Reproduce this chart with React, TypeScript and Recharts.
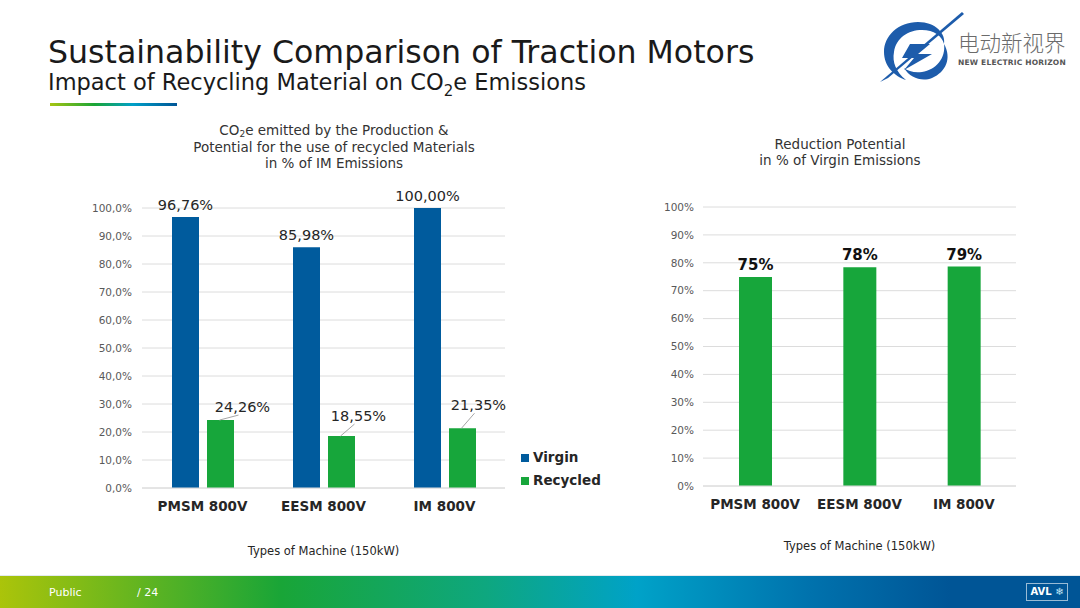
import React from 'react';
import { BarChart, Bar, XAxis, YAxis, CartesianGrid, LabelList, Legend, Label } from 'recharts';

const machines = ['PMSM 800V', 'EESM 800V', 'IM 800V'];
const virgin = [96.76, 85.98, 100.0];
const recycled = [24.26, 18.55, 21.35];
const reduction = [74.93, 78.43, 78.65];
const leftTicks = [0, 10, 20, 30, 40, 50, 60, 70, 80, 90, 100];
const rightTicks = [0, 10, 20, 30, 40, 50, 60, 70, 80, 90, 100];

const BLUE = '#005b9d';
const GREEN = '#17a63b';
const GRID = '#dcdcdc';
const FONT = "Verdana, 'DejaVu Sans', sans-serif";

const emissionRows = machines.map((name, i) => ({ name, virgin: virgin[i], recycled: recycled[i] }));
const reductionRows = machines.map((name, i) => ({ name, reduction: reduction[i] }));

const comma = (v: number, d: number) => v.toFixed(d).replace('.', ',');

// where the recycled labels sit relative to the bar top (they are pulled out with a leader line)
const recycledLabelShift = [
  { dx: 22, dy: -13 },
  { dx: 17, dy: -20 },
  { dx: 16, dy: -23 },
];

const RecycledLabel = (props: any) => {
  const { x, y, width, value, index } = props;
  const s = recycledLabelShift[index] || { dx: 0, dy: -10 };
  const bx = x + width / 2;
  const cx = bx + s.dx;
  const cy = y + s.dy;
  return (
    <g>
      <line x1={bx - 1} y1={y} x2={cx - 4} y2={cy + 8} stroke="#a6a6a6" strokeWidth={1} />
      <text x={cx} y={cy} dy="0.35em" textAnchor="middle" fontSize={14.5} fill="#262626" fontFamily={FONT}>
        {comma(value, 2)}%
      </text>
    </g>
  );
};

const LegendBox = () => (
  <div style={{ fontFamily: FONT, fontSize: 13.5, fontWeight: 700, color: '#262626', lineHeight: '23px' }}>
    {[
      { label: 'Virgin', color: BLUE },
      { label: 'Recycled', color: GREEN },
    ].map((it) => (
      <div key={it.label} style={{ display: 'flex', alignItems: 'center' }}>
        <span style={{ display: 'inline-block', width: 8, height: 8, background: it.color, marginRight: 4 }} />
        {it.label}
      </div>
    ))}
  </div>
);

const Logo = () => (
  <svg width={206} height={84} style={{ position: 'absolute', left: 874, top: 8 }}>
    <g fill="#1d5cab">
      <path d="M44 14 C24 14 10 28 10 44 C10 58 20 68 32 72 C22 64 18 54 20 44 C22 30 34 22 48 22 C60 22 68 28 70 36 C72 26 62 14 44 14 Z" />
      <path d="M70 36 C72 50 62 62 48 64 C40 65 34 63 30 60 C36 70 48 74 58 70 C72 64 78 50 70 36 Z" />
      <path d="M36 36 L56 36 L44 46 L58 46 L30 62 L40 50 L28 50 Z" />
      <path d="M6 74 L88 4 L90 6 L14 70 Z" />
    </g>
    <text x={84} y={43} fontSize={21.5} fill="#6b6b6b" fontFamily="'Noto Sans CJK SC', sans-serif" fontWeight={300}>
      电动新视界
    </text>
    <text x={84} y={57} fontSize={7.5} fill="#555" fontFamily="'DejaVu Sans', sans-serif" fontWeight={700} letterSpacing={0.2}>
      NEW ELECTRIC HORIZON
    </text>
  </svg>
);

const App: React.FC = () => {
  return (
    <div style={{ position: 'absolute', left: 0, top: 0, width: 1080, height: 608, background: '#fff', overflow: 'hidden' }}>
      <div style={{ position: 'absolute', left: 48, top: 33, fontFamily: FONT, color: '#1a1a1a', whiteSpace: 'nowrap' }}>
        <div style={{ fontSize: 31.6, lineHeight: '38px' }}>Sustainability Comparison of Traction Motors</div>
        <div style={{ fontSize: 22.5, lineHeight: '22px' }}>
          Impact of Recycling Material on CO<sub style={{ fontSize: 15, lineHeight: 0 }}>2</sub>e Emissions
        </div>
      </div>
      <div
        style={{
          position: 'absolute', left: 50, top: 103, width: 127, height: 3,
          background: 'linear-gradient(90deg, #a6c512 0%, #1aa535 35%, #00a0c8 65%, #005596 100%)',
        }}
      />
      <Logo />

      {/* left chart */}
      <div style={{ position: 'absolute', left: 134, top: 122, width: 400, textAlign: 'center', fontFamily: FONT, fontSize: 13.5, color: '#333', lineHeight: '16.5px', whiteSpace: 'nowrap' }}>
        CO<sub style={{ fontSize: 9, lineHeight: 0, verticalAlign: '-2px' }}>2</sub>e emitted by the Production &amp;<br />
        Potential for the use of recycled Materials<br />
        in % of IM Emissions
      </div>
      <div style={{ position: 'absolute', left: 40, top: 170 }}>
        <BarChart width={560} height={400} data={emissionRows} margin={{ top: 38, right: 95, bottom: 13, left: 42 }} barSize={27} barGap={8}>
          <CartesianGrid vertical={false} stroke={GRID} />
          <XAxis
            dataKey="name"
            axisLine={{ stroke: GRID }}
            tickLine={false}
            tickMargin={7}
            height={69}
            tick={{ fontFamily: FONT, fontSize: 13.5, fontWeight: 700, fill: '#262626' }}
          >
            <Label value="Types of Machine (150kW)" position="insideBottom" offset={2} style={{ fontFamily: FONT, fontSize: 11.5, fill: '#262626' }} />
          </XAxis>
          <YAxis
            domain={[0, 100]}
            ticks={leftTicks}
            width={60}
            axisLine={false}
            tickLine={false}
            tickMargin={4}
            tickFormatter={(v: number) => `${comma(v, 1)}%`}
            tick={{ fontFamily: FONT, fontSize: 10.5, fill: '#595959' }}
          />
          <Legend layout="vertical" align="center" verticalAlign="middle" wrapperStyle={{ left: 481, top: 276, width: 90 }} content={() => <LegendBox />} />
          <Bar dataKey="virgin" name="Virgin" fill={BLUE} isAnimationActive={false}>
            <LabelList
              dataKey="virgin"
              position="top"
              offset={7}
              formatter={(v: any) => `${comma(Number(v), 2)}%`}
              style={{ fontFamily: FONT, fontSize: 14.5, fill: '#262626' }}
            />
          </Bar>
          <Bar dataKey="recycled" name="Recycled" fill={GREEN} isAnimationActive={false}>
            <LabelList dataKey="recycled" content={RecycledLabel} />
          </Bar>
        </BarChart>
      </div>

      {/* right chart */}
      <div style={{ position: 'absolute', left: 690, top: 136, width: 300, textAlign: 'center', fontFamily: FONT, fontSize: 13.5, color: '#333', lineHeight: '16px', whiteSpace: 'nowrap' }}>
        Reduction Potential<br />
        in % of Virgin Emissions
      </div>
      <div style={{ position: 'absolute', left: 640, top: 170 }}>
        <BarChart width={420} height={400} data={reductionRows} margin={{ top: 37, right: 44, bottom: 15, left: 18 }} barSize={33}>
          <CartesianGrid vertical={false} stroke={GRID} />
          <XAxis
            dataKey="name"
            axisLine={{ stroke: GRID }}
            tickLine={false}
            tickMargin={7}
            height={69}
            tick={{ fontFamily: FONT, fontSize: 13.5, fontWeight: 700, fill: '#262626' }}
          >
            <Label value="Types of Machine (150kW)" position="insideBottom" offset={5} style={{ fontFamily: FONT, fontSize: 11.5, fill: '#262626' }} />
          </XAxis>
          <YAxis
            domain={[0, 100]}
            ticks={rightTicks}
            width={45}
            axisLine={false}
            tickLine={false}
            tickMargin={3}
            tickFormatter={(v: number) => `${v}%`}
            tick={{ fontFamily: FONT, fontSize: 10.5, fill: '#595959' }}
          />
          <Bar dataKey="reduction" fill={GREEN} isAnimationActive={false}>
            <LabelList
              dataKey="reduction"
              position="top"
              offset={7}
              formatter={(v: any) => `${Math.round(Number(v))}%`}
              style={{ fontFamily: FONT, fontSize: 15, fontWeight: 700, fill: '#111' }}
            />
          </Bar>
        </BarChart>
      </div>

      {/* footer */}
      <div
        style={{
          position: 'absolute', left: 0, top: 575, width: 1080, height: 33,
          borderTop: '1px solid #e3eaee',
          background: 'linear-gradient(90deg, #abc40a 0%, #19a537 26%, #0ea77f 45%, #00a2c8 59%, #0072ad 75%, #005596 88%, #005596 100%)',
          fontFamily: FONT, fontSize: 11, color: '#fff',
        }}
      >
        <span style={{ position: 'absolute', left: 49, top: 10 }}>Public</span>
        <span style={{ position: 'absolute', left: 137, top: 10 }}>/ 24</span>
        <div
          style={{
            position: 'absolute', left: 1026, top: 7, width: 40, height: 16,
            border: '1px solid rgba(255,255,255,0.6)', fontSize: 10, fontWeight: 700,
            lineHeight: '16px', textAlign: 'center',
          }}
        >
          AVL <span style={{ color: '#bfe3f5' }}>❄</span>
        </div>
      </div>
    </div>
  );
};

export default App;
